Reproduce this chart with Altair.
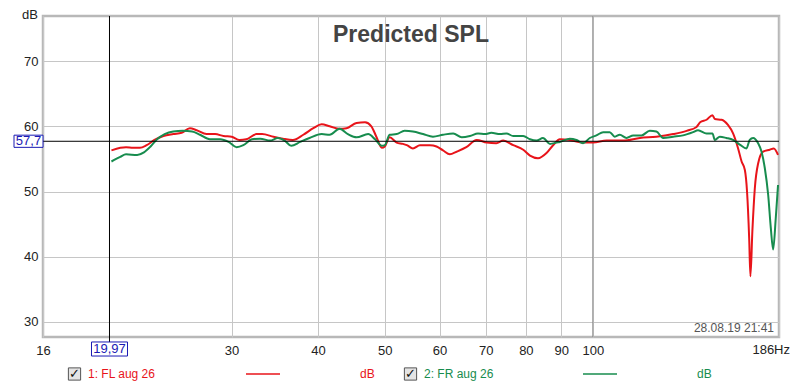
import altair as alt
import pandas as pd

# ---- data ----
red_freq = [20.1, 20.7, 21.1, 21.6, 22.1, 22.6, 23.2, 23.9, 24.7, 25.4, 26.1, 26.7, 27.6, 28.4, 29.2, 30.0,
            30.8, 31.5, 32.6, 33.2, 34.5, 35.6, 36.8, 38.1, 39.4, 40.5, 41.6, 43.0, 44.0, 45.5, 46.8, 47.8,
            48.6, 49.5, 50.0, 50.8, 52.0, 53.1, 53.8, 54.9, 56.2, 58.1, 59.4, 60.7, 62.1, 63.5, 65.6, 67.9,
            70.2, 72.5, 74.2, 76.7, 79.3, 81.1, 83.3, 85.7, 87.6, 89.6, 92.6, 96.8, 100.1, 104.7, 110.6, 117.0,
            123.6, 130.7, 136.7, 141.3, 143.0, 146.1, 149.0, 150.2, 153.6, 156.9, 159.6, 162.3, 164.2, 166.0,
            167.2, 168.4, 169.1, 170.2, 171.6, 173.5, 176.4, 180.4, 182.8, 185.4]
red_db = [56.3, 56.7, 56.8, 56.7, 56.7, 57.1, 57.9, 58.5, 58.8, 59.0, 59.7, 59.4, 58.8, 58.8, 58.5, 58.4,
          57.9, 58.0, 58.8, 58.8, 58.4, 58.1, 57.9, 58.7, 59.7, 60.3, 60.0, 59.6, 59.7, 60.5, 60.6, 60.0,
          58.4, 56.7, 56.9, 58.3, 57.5, 57.3, 57.1, 56.6, 57.1, 57.1, 56.9, 56.3, 55.7, 56.1, 56.8, 57.9,
          57.5, 57.4, 57.8, 57.1, 56.4, 55.5, 55.1, 55.9, 57.1, 58.0, 57.9, 57.5, 57.5, 57.8, 57.8, 58.2,
          58.4, 58.8, 59.3, 59.9, 60.6, 61.0, 61.7, 61.1, 61.0, 60.2, 58.9, 56.6, 54.6, 53.3,
          50.0, 42.8, 37.0, 43.9, 50.5, 54.3, 56.1, 56.4, 56.6, 55.6]

green_freq = [20.1, 20.7, 21.1, 21.9, 22.4, 22.9, 23.4, 24.0, 24.7, 25.5, 26.3, 27.0, 27.9, 28.9, 29.7, 30.5,
              31.2, 32.1, 33.0, 34.1, 35.0, 35.8, 36.6, 37.7, 38.9, 40.5, 41.6, 43.0, 44.2, 45.5, 47.3, 48.4,
              49.5, 50.0, 50.8, 52.0, 53.4, 54.9, 56.8, 58.7, 60.7, 62.8, 64.6, 66.4, 68.2, 69.8, 71.3, 73.4,
              75.0, 76.7, 79.3, 81.1, 82.9, 84.7, 86.7, 88.6, 89.6, 92.6, 94.7, 96.8, 99.0, 101.2, 103.5, 105.8,
              107.6, 109.4, 111.9, 114.4, 117.6, 120.9, 123.6, 126.4, 130.7, 135.1, 139.7, 142.0, 146.1, 149.0,
              150.2, 152.7, 156.1, 159.6, 163.2, 166.9, 168.7, 170.6, 173.5, 175.5, 177.4, 179.4, 181.0, 182.4,
              184.0, 185.4]
green_db = [54.6, 55.3, 55.7, 55.6, 56.0, 56.9, 58.0, 58.8, 59.2, 59.3, 59.2, 58.7, 58.0, 58.0, 57.6, 56.8,
            57.1, 58.0, 58.1, 57.8, 58.2, 57.8, 57.0, 57.6, 58.2, 58.8, 58.7, 59.6, 58.8, 58.3, 58.8, 58.0,
            57.0, 57.1, 58.7, 58.8, 59.3, 59.2, 58.8, 58.4, 58.7, 58.9, 58.3, 58.5, 58.9, 58.8, 59.0, 58.8,
            58.9, 58.5, 58.5, 58.0, 57.8, 58.2, 57.3, 57.5, 57.6, 58.1, 57.9, 57.4, 58.2, 58.6, 59.1, 59.1,
            58.4, 58.7, 58.2, 58.6, 58.6, 59.3, 59.2, 58.2, 58.4, 58.6, 59.1, 59.4, 58.9, 58.9,
            57.9, 58.4, 58.2, 57.9, 57.2, 56.6, 57.9, 58.2, 57.4, 56.1, 53.6, 49.5, 44.4, 41.1,
            45.9, 51.0]

series_names = ["1: FL aug 26", "2: FR aug 26"]
series_colors = ["#e8141a", "#178c4e"]
x_ticks = [16, 30, 40, 50, 60, 70, 80, 90, 100, 186]
y_ticks = [30, 40, 50, 60, 70]
cursor_freq = 19.97
cursor_db = 57.7
title_text = "Predicted SPL"
date_text = "28.08.19 21:41"
x_end_label = "186Hz"

df = pd.concat([
    pd.DataFrame({"freq": red_freq, "db": red_db, "series": series_names[0]}),
    pd.DataFrame({"freq": green_freq, "db": green_db, "series": series_names[1]}),
])
one = pd.DataFrame({"k": [0]})

W, H = 736, 321
FONT = "Liberation Sans"
BLUE = "#1a1ab4"

xs = alt.Scale(type="log", domain=[16, 186], nice=False)
ys = alt.Scale(domain=[27.7, 76.9], nice=False, zero=False)

lines = alt.Chart(df).mark_line(strokeWidth=2, interpolate="monotone", clip=True).encode(
    x=alt.X("freq:Q", scale=xs, title=None,
            axis=alt.Axis(values=x_ticks, grid=True, gridColor="#c6c6c6", ticks=False, domain=False,
                          labelExpr="datum.value >= 186 ? '' : format(datum.value, 'd')",
                          labelFontSize=13, labelColor="#222", labelFont=FONT, labelPadding=7,
                          labelFlush=False, labelOverlap=False)),
    y=alt.Y("db:Q", scale=ys, title=None,
            axis=alt.Axis(values=y_ticks, grid=True, gridColor="#c6c6c6", ticks=False, domain=False,
                          labelFontSize=13, labelColor="#222", labelFont=FONT, labelPadding=5)),
    color=alt.Color("series:N", scale=alt.Scale(domain=series_names, range=series_colors), legend=None),
)

grid100 = alt.Chart(one).mark_rule(color="#8a8a8a", strokeWidth=1).encode(x=alt.datum(100, scale=xs))

vcursor = alt.Chart(one).mark_rule(color="black", strokeWidth=1).encode(
    x=alt.datum(cursor_freq), y=alt.value(0), y2=alt.value(H + 5))
hcursor = alt.Chart(one).mark_rule(color="black", strokeWidth=1).encode(
    y=alt.datum(cursor_db), x=alt.value(0), x2=alt.value(W))

xbox = alt.Chart(one).mark_point(shape="M-1,-0.39H1V0.39H-1Z", size=1296, fill="white", stroke=BLUE,
                                 strokeWidth=1, opacity=1, fillOpacity=1, filled=False).encode(
    x=alt.datum(cursor_freq), y=alt.value(H + 12))
xbox_text = alt.Chart(one).mark_text(text="19,97", fontSize=13, font=FONT, color=BLUE,
                                     baseline="middle", align="center").encode(
    x=alt.datum(cursor_freq), y=alt.value(H + 12))

ybox = alt.Chart(one).mark_point(shape="M-1,-0.42H1V0.42H-1Z", size=841, fill="white", stroke=BLUE,
                                 strokeWidth=1, opacity=1, fillOpacity=1, filled=False).encode(
    x=alt.value(-14.5), y=alt.datum(cursor_db))
ybox_text = alt.Chart(one).mark_text(text="57,7", fontSize=13, font=FONT, color=BLUE,
                                     baseline="middle", align="center").encode(
    x=alt.value(-14.5), y=alt.datum(cursor_db))

x_end = alt.Chart(one).mark_text(text=x_end_label, fontSize=13, font=FONT, color="#222",
                                 align="right", baseline="middle").encode(
    x=alt.value(W + 11), y=alt.value(H + 13))

db_label = alt.Chart(one).mark_text(text="dB", fontSize=13, font=FONT, color="#222",
                                    align="right", baseline="top").encode(
    x=alt.value(-5), y=alt.value(-7))

title = alt.Chart(one).mark_text(text=title_text, fontSize=23, font=FONT, fontWeight="bold",
                                 color="#444444", align="center", baseline="middle").encode(
    x=alt.value(W / 2), y=alt.value(19))

date = alt.Chart(one).mark_text(text=date_text, fontSize=12, font=FONT, color="#555555",
                                align="right", baseline="middle").encode(
    x=alt.value(W - 5), y=alt.value(H - 9))

LY = 358
legend_layers = []
for name, col, bx, tx, lx1, lx2, dbx in [
    (series_names[0], series_colors[0], 31.5, 45, 203, 237, 317),
    (series_names[1], series_colors[1], 367.5, 381, 540, 574, 654),
]:
    legend_layers.append(alt.Chart(one).mark_point(shape="square", size=150, fill="#e4e4e4", stroke="#555",
                                                   strokeWidth=1, opacity=1, fillOpacity=1).encode(
        x=alt.value(bx), y=alt.value(LY)))
    legend_layers.append(alt.Chart(one).mark_text(text="✓", fontSize=13, font="DejaVu Sans", fontWeight="bold",
                                                  color="#111", align="center", baseline="middle").encode(
        x=alt.value(bx), y=alt.value(LY)))
    legend_layers.append(alt.Chart(one).mark_text(text=name, fontSize=12, font=FONT, color=col,
                                                  align="left", baseline="middle").encode(
        x=alt.value(tx), y=alt.value(LY)))
    legend_layers.append(alt.Chart(one).mark_rule(color=col, strokeWidth=1.5).encode(
        x=alt.value(lx1), x2=alt.value(lx2), y=alt.value(LY)))
    legend_layers.append(alt.Chart(one).mark_text(text="dB", fontSize=12, font=FONT, color=col,
                                                  align="left", baseline="middle").encode(
        x=alt.value(dbx), y=alt.value(LY)))

chart = alt.layer(
    grid100, lines, vcursor, hcursor, xbox, xbox_text, ybox, ybox_text, x_end, db_label, title, date,
    *legend_layers
).properties(
    width=W, height=H,
    padding={"left": 35, "top": 8, "right": 13, "bottom": 44},
    autosize=alt.AutoSizeParams(type="none"),
    background="white",
).configure_view(stroke="#b8b8b8", strokeWidth=2.5)

chart.save("out.html", embed_options={"renderer": "svg", "actions": False})
